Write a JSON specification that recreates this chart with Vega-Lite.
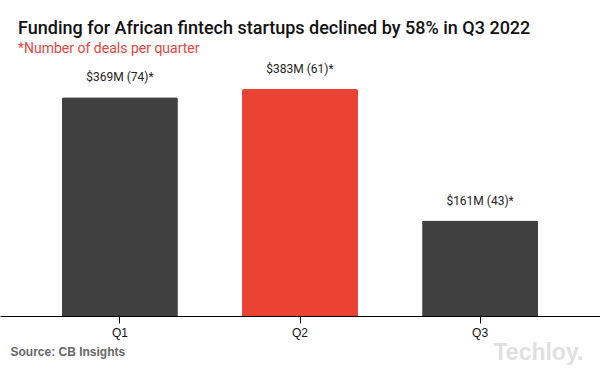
{
  "$schema": "https://vega.github.io/schema/vega-lite/v6.json",
  "width": 600,
  "height": 237,
  "autosize": {"type": "none"},
  "padding": {"left": 0, "top": 79, "right": 0, "bottom": 55},
  "background": "white",
  "config": {"view": {"stroke": null}, "font": "Roboto"},
  "title": {
    "text": "Funding for African fintech startups declined by 58% in Q3 2022",
    "subtitle": "*Number of deals per quarter",
    "anchor": "start",
    "frame": "group",
    "dx": 18,
    "offset": 7,
    "font": "Roboto",
    "fontSize": 18,
    "fontWeight": 500,
    "color": "#111111",
    "subtitleFont": "Roboto",
    "subtitleFontSize": 14,
    "subtitleColor": "#e8453c",
    "subtitlePadding": 4
  },
  "data": {
    "values": [
      {"quarter": "Q1", "funding": 369, "deals": 74, "label": "$369M (74)*", "highlight": "no"},
      {"quarter": "Q2", "funding": 383, "deals": 61, "label": "$383M (61)*", "highlight": "yes"},
      {"quarter": "Q3", "funding": 161, "deals": 43, "label": "$161M (43)*", "highlight": "no"}
    ]
  },
  "encoding": {
    "x": {
      "field": "quarter",
      "type": "nominal",
      "sort": null,
      "scale": {"paddingInner": 0.356, "paddingOuter": 0.344},
      "axis": {
        "title": "Source: CB Insights",
        "titleX": 10,
        "titleY": 35,
        "titleAlign": "left",
        "titleAnchor": null,
        "titleBaseline": "middle",
        "titleFont": "Liberation Sans",
        "titleFontSize": 12,
        "titleFontWeight": "bold",
        "titleColor": "#666666",
        "labelAngle": 0,
        "labelFont": "Liberation Sans",
        "labelFontSize": 12,
        "labelColor": "#111111",
        "labelPadding": 4,
        "domainColor": "#000000",
        "domainWidth": 1,
        "tickColor": "#000000",
        "tickSize": 7,
        "zindex": 0
      }
    },
    "y": {
      "field": "funding",
      "type": "quantitative",
      "scale": {"domain": [0, 400], "nice": false},
      "axis": {
        "title": "Techloy.",
        "titleAngle": 0,
        "titleX": 493,
        "titleY": 273,
        "titleAlign": "left",
        "titleBaseline": "middle",
        "titleFont": "Liberation Sans",
        "titleFontSize": 23,
        "titleFontWeight": "bold",
        "titleColor": "#e0e0e0",
        "labels": false,
        "ticks": false,
        "domain": false,
        "grid": false
      }
    }
  },
  "layer": [
    {
      "mark": {"type": "bar", "cornerRadiusTopLeft": 2, "cornerRadiusTopRight": 2},
      "encoding": {
        "color": {
          "field": "highlight",
          "type": "nominal",
          "scale": {"domain": ["no", "yes"], "range": ["#404040", "#ea4335"]},
          "legend": null
        }
      }
    },
    {
      "mark": {"type": "text", "baseline": "alphabetic", "dy": -16, "font": "Roboto", "fontSize": 12, "color": "#222222"},
      "encoding": {"text": {"field": "label"}}
    }
  ]
}
